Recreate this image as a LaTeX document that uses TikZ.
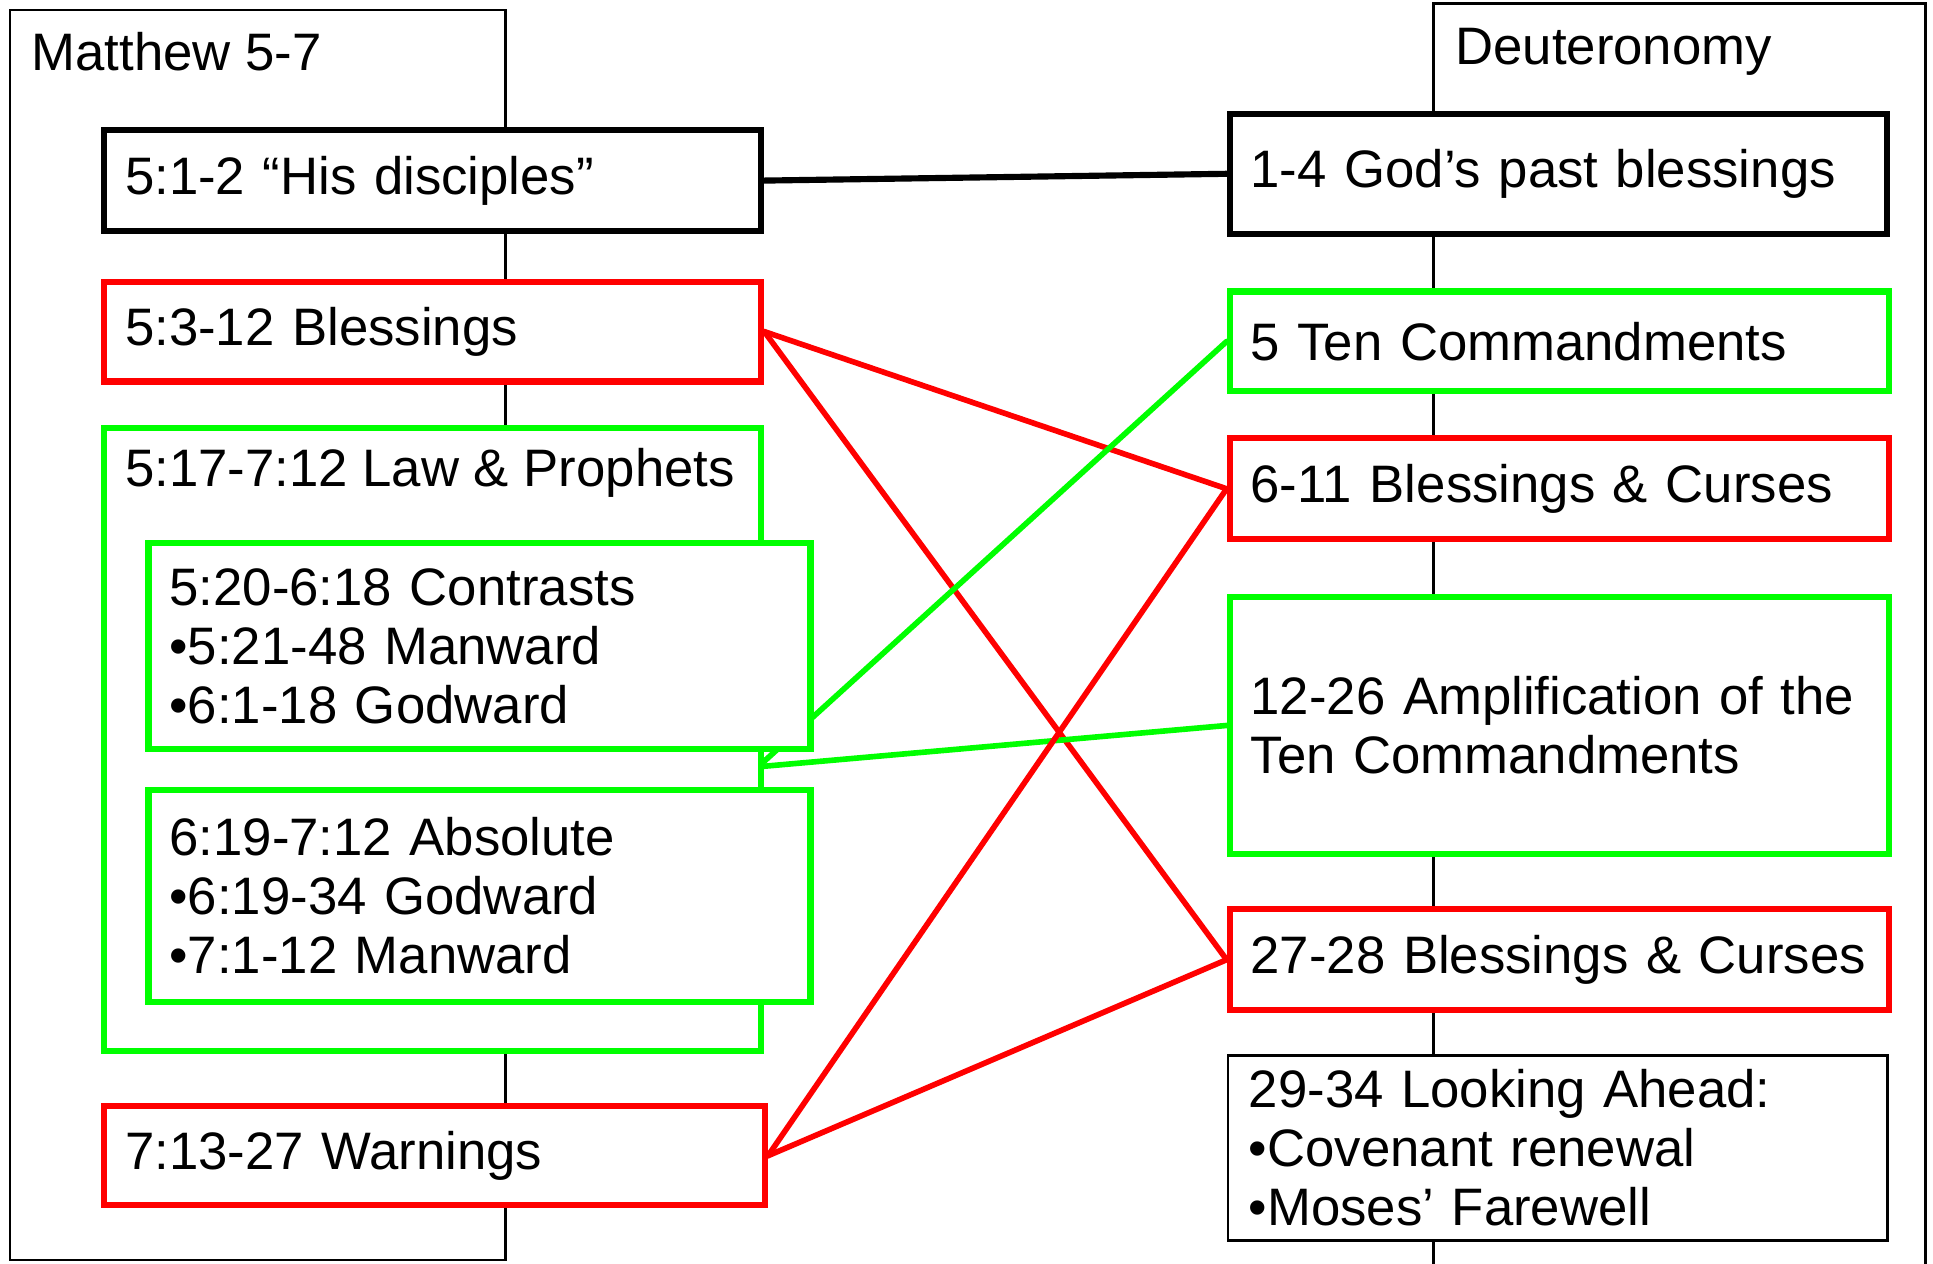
\documentclass[tikz,border=0pt]{standalone}
\usepackage{fontspec}
\setmainfont{Liberation Sans}
\usetikzlibrary{calc,backgrounds}
\newlength\unitpx
\setlength\unitpx{0.12328mm}

\begin{document}
\begin{tikzpicture}[x=0.12328mm, y=-0.12328mm,
        every node/.style={font=\fontsize{15}{16.8}\selectfont},
        book/.style={draw, line width=0.75pt},
        passage/.style={draw, fill=white, rectangle, anchor=north west, align=left, inner xsep=17\unitpx, inner ysep=0pt, line width=1.75pt},
        thin passage/.style={passage, line width=0.75pt},
        booktitle/.style={anchor=base west, inner xsep=17\unitpx, inner ysep=0pt},
        link/.style={line width=1.6pt, line cap=round}]
    \useasboundingbox (0,0) rectangle (1568,1025);

    \draw[book] (8,8) rectangle (410,1022);
    \draw[book] (1163,1030) -- (1163,3) -- (1562,3) -- (1562,1030);
    \node[booktitle] (mtitle) at (8,57) {Matthew 5-7};
    \node[booktitle] (dtitle) at (1163,52) {Deuteronomy};

    \node[passage, text width=499\unitpx, minimum height=82\unitpx] (mdisciples) at (82,103) {5:1-2 “His disciples”};
    \node[passage, draw=red, text width=499\unitpx, minimum height=81\unitpx] (mblessings) at (82,226) {5:3-12 Blessings};
    \node[passage, draw=green, text width=499\unitpx, minimum height=505\unitpx] (mlaw) at (82,345) {};
    \node[booktitle, xshift=2\unitpx] (mlawtitle) at (82,395) {5:17-7:12 Law \& Prophets};
    \node[passage, draw=green, text width=503\unitpx, minimum height=167\unitpx] (mcontrasts) at (118,438) {5:20-6:18 Contrasts\\•5:21-48 Manward\\•6:1-18 Godward};
    \node[passage, draw=green, text width=503\unitpx, minimum height=172\unitpx] (mabsolute) at (118,638) {6:19-7:12 Absolute\\•6:19-34 Godward\\•7:1-12 Manward};
    \node[passage, draw=red, text width=502\unitpx, minimum height=80\unitpx] (mwarnings) at (82,895) {7:13-27 Warnings};

    \node[passage, text width=499\unitpx, minimum height=97\unitpx] (dpast) at (995,90) {1-4 God’s past blessings};
    \node[passage, draw=green, text width=501\unitpx, minimum height=81\unitpx] (dten) at (995,234) {5 Ten Commandments};
    \node[passage, draw=red, text width=501\unitpx, minimum height=82\unitpx] (dcurses) at (995,353) {6-11 Blessings \& Curses};
    \node[passage, draw=green, text width=501\unitpx, minimum height=208\unitpx] (damplify) at (995,482) {12-26 Amplification of the\\Ten Commandments};
    \node[passage, draw=red, text width=501\unitpx, minimum height=82\unitpx] (dcursesb) at (995,735) {27-28 Blessings \& Curses};
    \node[thin passage, text width=501\unitpx, minimum height=150\unitpx] (dahead) at (995,855) {29-34 Looking Ahead:\\•Covenant renewal\\•Moses’ Farewell};

    \coordinate (mlawlink) at (615,622);

    \begin{scope}[on background layer]
        \draw[link, line width=1.75pt] (mdisciples.east) -- (dpast.west);
        \draw[link, red] (mblessings.east) -- (dcurses.west);
        \draw[link, red] (mblessings.east) -- (dcursesb.west);
        \draw[link, green] (dten.west) -- (mlawlink);
        \draw[link, green] (damplify.west) -- (mlawlink);
        \draw[link, red] (mwarnings.east) -- (dcurses.west);
        \draw[link, red] (mwarnings.east) -- (dcursesb.west);
    \end{scope}
\end{tikzpicture}
\end{document}
